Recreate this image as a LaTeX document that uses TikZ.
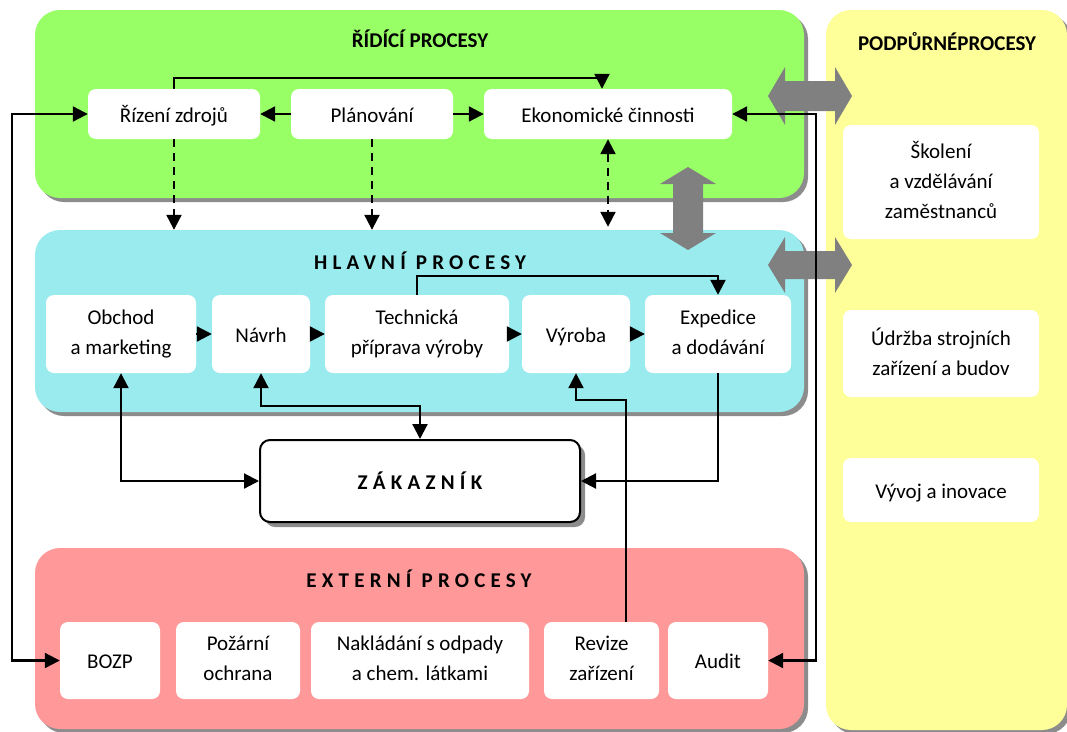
\documentclass[tikz,border=0pt]{standalone}
\usepackage{fontspec}
\setmainfont{Carlito}
\usetikzlibrary{arrows.meta,shadows}

\definecolor{ctrlgreen}{HTML}{99FF66}
\definecolor{maincyan}{HTML}{99EBEE}
\definecolor{extred}{HTML}{FF9999}
\definecolor{supyellow}{HTML}{FFFF99}
\definecolor{shadowgray}{HTML}{8C8C8C}
\definecolor{arrowgray}{HTML}{808080}

\newcommand\boxfont{\fontsize{21}{30}\selectfont}
\newcommand\titlefont{\fontsize{21}{25}\selectfont\bfseries}
\newcommand\widefont{\titlefont\addfontfeature{LetterSpace=25}}

\tikzset{
  panel/.style={rectangle, rounded corners=25pt, inner sep=0pt,
    general shadow={fill=shadowgray, shadow xshift=4pt, shadow yshift=-4pt}},
  box/.style={rectangle, rounded corners=8pt, fill=white, inner sep=0pt,
    align=center, font=\boxfont,
    execute at begin node={\rule{0pt}{20pt}},
    execute at end node={\rule[-4pt]{0pt}{4pt}}},
  ttl/.style={inner sep=0pt, font=\titlefont},
  widettl/.style={inner sep=0pt, font=\widefont},
  arr/.style={line width=2.2pt, -{Triangle[length=15pt,width=15pt]}},
  arrboth/.style={line width=2.2pt, {Triangle[length=15pt,width=15pt]}-{Triangle[length=15pt,width=15pt]}},
  dashpat/.style={dash pattern=on 8pt off 6pt},
  bigarrow/.style={fill=arrowgray}
}

\begin{document}
\begin{tikzpicture}[x=1pt,y=-1pt]
\useasboundingbox (0,0) rectangle (1067,731);

% coloured process groups
\node[panel, fill=ctrlgreen, minimum width=769pt, minimum height=188pt] (ctrl) at (419.5,104) {};
\node[panel, fill=maincyan, minimum width=769pt, minimum height=182pt] (main) at (419.5,321) {};
\node[panel, fill=extred, minimum width=769pt, minimum height=181pt] (ext) at (419.5,638.5) {};
\node[panel, fill=supyellow, minimum width=241pt, minimum height=720pt] (sup) at (946.5,370) {};

% group titles
\node[ttl] (ctrlttl) at (420,39) {ŘÍDÍCÍ PROCESY};
\node[ttl] (supttl) at (947,42) {PODPŮRNÉPROCESY};
\node[widettl] (mainttl) at (420,261) {HLAVNÍ PROCESY};
\node[widettl] (extttl) at (419,579) {EXTERNÍ PROCESY};

% broad grey links between the groups
\fill[bigarrow] (768,96) -- (785,67) -- (785,81) -- (835,81) -- (835,67) -- (852,96)
  -- (835,125) -- (835,111) -- (785,111) -- (785,125) -- cycle;
\fill[bigarrow] (768,265) -- (785,237) -- (785,251) -- (835,251) -- (835,237) -- (852,265)
  -- (835,293) -- (835,279) -- (785,279) -- (785,293) -- cycle;
\fill[bigarrow] (688,167) -- (660,184) -- (673,184) -- (673,233) -- (660,233) -- (688,250)
  -- (716,233) -- (703,233) -- (703,184) -- (716,184) -- cycle;

% control processes
\node[box, minimum width=172pt, minimum height=50pt] (rizeni) at (174,114) {Řízení zdrojů};
\node[box, minimum width=162pt, minimum height=50pt] (plan) at (372,114) {Plánování};
\node[box, minimum width=248pt, minimum height=50pt] (eko) at (608,114) {Ekonomické činnosti};

% main processes
\node[box, minimum width=150pt, minimum height=78pt] (obchod) at (121,334) {Obchod\\a marketing};
\node[box, minimum width=98pt, minimum height=78pt] (navrh) at (261,334) {Návrh};
\node[box, minimum width=184pt, minimum height=78pt] (tech) at (417,334) {Technická\\příprava výroby};
\node[box, minimum width=108pt, minimum height=78pt] (vyroba) at (576,334) {Výroba};
\node[box, minimum width=146pt, minimum height=78pt] (exped) at (718,334) {Expedice\\a dodávání};

% customer
\node[box, draw=black, line width=2pt, rounded corners=10pt, font=\widefont,
  general shadow={fill=shadowgray, shadow xshift=5pt, shadow yshift=-5pt},
  minimum width=320pt, minimum height=82pt] (zak) at (420,481) {ZÁKAZNÍK};

% external processes
\node[box, minimum width=100pt, minimum height=77pt] (bozp) at (110,660.5) {BOZP};
\node[box, minimum width=124pt, minimum height=77pt] (pozar) at (238,660.5) {Požární\\ochrana};
\node[box, minimum width=218pt, minimum height=77pt] (nakl) at (420,660.5) {Nakládání s odpady\\a chem. látkami};
\node[box, minimum width=115pt, minimum height=77pt] (revize) at (601.5,660.5) {Revize\\zařízení};
\node[box, minimum width=100pt, minimum height=77pt] (audit) at (718,660.5) {Audit};

% support processes
\node[box, minimum width=196pt, minimum height=114pt] (skol) at (941,182) {Školení\\a vzdělávání\\zaměstnanců};
\node[box, minimum width=196pt, minimum height=87pt] (udrz) at (941,353.5) {Údržba strojních\\zařízení a budov};
\node[box, minimum width=196pt, minimum height=64pt] (vyvoj) at (941,490) {Vývoj a inovace};

% routing points
\coordinate (t1) at (602,78);
\coordinate (t2) at (718,276);
\coordinate (t3) at (420,406);
\coordinate (t4) at (626,400);
\coordinate (lc) at (12,400);
\coordinate (rc) at (816,400);

% connectors inside the control group
\draw[arr] (plan.west) -- (rizeni.east);
\draw[arr] (plan.east) -- (eko.west);
\draw[arr] (rizeni.north) |- (t1) -- (t1 |- eko.north);

% control to main processes
\draw[arr, dashpat] (rizeni.south) -- (rizeni.south |- main.north);
\draw[arr, dashpat] (plan.south) -- (plan.south |- main.north);
\draw[arrboth, dashpat] (eko.south) -- ([yshift=3pt]eko.south |- main.north);

% main process chain
\draw[arr] (obchod.east) -- (navrh.west);
\draw[arr] (navrh.east) -- (tech.west);
\draw[arr] (tech.east) -- (vyroba.west);
\draw[arr] (vyroba.east) -- (exped.west);
\draw[arr] (tech.north) |- (t2) -- (exped.north);

% customer links
\draw[arrboth] (obchod.south) |- (zak.west);
\draw[arrboth] (navrh.south) |- (t3) -- (zak.north);
\draw[arr] (exped.south) |- (zak.east);
\draw[arr] (t4 |- revize.north) -- (t4) -| (vyroba.south);

% outer loops
\draw[arrboth] (rizeni.west) -| (lc) |- (bozp.west);
\draw[arrboth] (eko.east) -| (rc) |- (audit.east);
\end{tikzpicture}
\end{document}
